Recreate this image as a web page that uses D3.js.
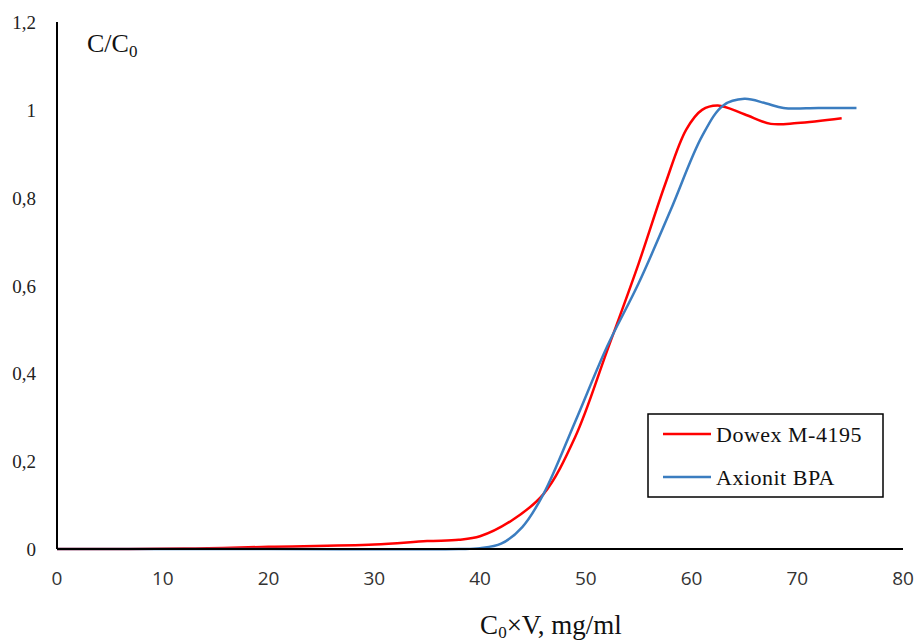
<!DOCTYPE html>
<html>
<head>
<meta charset="utf-8">
<script src="https://cdn.jsdelivr.net/npm/d3@7"></script>
<style>
  body { margin: 0; background: #fff; }
  svg { display: block; }
</style>
</head>
<body>
<div class="chart"></div>
<script>
const w = 916;
const h = 643;

// values
const dowexX = [0, 12, 20, 30, 35, 38, 40, 43, 46, 49, 52, 55, 57.5, 59.5, 61, 62.5, 65, 67.5, 70, 74.2];
const dowexY = [0, 0.001, 0.005, 0.01, 0.018, 0.021, 0.029, 0.065, 0.125, 0.255, 0.45, 0.65, 0.83, 0.955, 1.0, 1.01, 0.99, 0.968, 0.97, 0.981];
const axionitX = [0, 20, 38, 40, 42, 44, 46, 49, 52, 55, 58, 61, 63, 65, 67, 68.7, 72, 75.6];
const axionitY = [0, 0, 0, 0.002, 0.012, 0.05, 0.125, 0.29, 0.46, 0.605, 0.77, 0.94, 1.01, 1.025, 1.015, 1.004, 1.004, 1.004];
const xTicks = [0, 10, 20, 30, 40, 50, 60, 70, 80];
const yTicks = [0, 0.2, 0.4, 0.6, 0.8, 1, 1.2];
const seriesNames = ["Dowex M-4195", "Axionit BPA"];
const seriesColors = ["#ff0000", "#3b7dc0"];

const series = [
  dowexX.map((x, i) => ({x: x, y: dowexY[i]})),
  axionitX.map((x, i) => ({x: x, y: axionitY[i]}))
];

const svg = d3.select(".chart")
  .append("svg")
  .attr("width", w)
  .attr("height", h);

const x = d3.scaleLinear().domain([0, 80]).range([57, 903]);
const y = d3.scaleLinear().domain([0, 1.2]).range([549, 22]);

// y tick labels (comma decimals)
svg.append("g")
  .selectAll("text")
  .data(yTicks)
  .enter().append("text")
  .attr("x", 36)
  .attr("y", d => y(d) + 7)
  .attr("text-anchor", "end")
  .attr("font-family", "Liberation Serif, serif")
  .attr("font-size", "19px")
  .attr("fill", "#222")
  .text(d => d3.format("~g")(d).replace(".", ","));

// x tick labels
svg.append("g")
  .selectAll("text")
  .data(xTicks)
  .enter().append("text")
  .attr("x", d => x(d))
  .attr("y", 585)
  .attr("text-anchor", "middle")
  .attr("font-family", "Open Sans, Liberation Sans, sans-serif")
  .attr("font-size", "19px")
  .attr("fill", "#333")
  .text(d => d);

const line = d3.line()
  .x(d => x(d.x))
  .y(d => y(d.y))
  .curve(d3.curveCatmullRom.alpha(0.5));

svg.append("g")
  .selectAll("path")
  .data(series)
  .enter().append("path")
  .attr("d", line)
  .attr("fill", "none")
  .attr("stroke", (d, i) => seriesColors[i])
  .attr("stroke-width", 2.5);

// axis lines
svg.append("line")
  .attr("x1", x(0)).attr("x2", x(0))
  .attr("y1", y(1.2)).attr("y2", y(0))
  .attr("stroke", "#000").attr("stroke-width", 2);
svg.append("line")
  .attr("x1", x(0)).attr("x2", x(80))
  .attr("y1", y(0)).attr("y2", y(0))
  .attr("stroke", "#000").attr("stroke-width", 2);

// axis titles
const yTitle = svg.append("text")
  .attr("x", 87)
  .attr("y", 52)
  .attr("font-family", "Liberation Serif, serif")
  .attr("font-size", "26px")
  .attr("fill", "#111");
yTitle.append("tspan").text("C/C");
yTitle.append("tspan").attr("dy", 5).attr("font-size", "17px").text("0");

const xTitle = svg.append("text")
  .attr("x", 551)
  .attr("y", 634)
  .attr("text-anchor", "middle")
  .attr("font-family", "Liberation Serif, serif")
  .attr("font-size", "27px")
  .attr("fill", "#111");
xTitle.append("tspan").text("C");
xTitle.append("tspan").attr("dy", 4).attr("font-size", "17px").text("0");
xTitle.append("tspan").attr("dy", -4).text("×V, mg/ml");

// legend
const legend = svg.append("g");
legend.append("rect")
  .attr("x", 648).attr("y", 414)
  .attr("width", 235).attr("height", 83)
  .attr("fill", "#fff")
  .attr("stroke", "#000")
  .attr("stroke-width", 1.5);

legend.selectAll("line")
  .data(seriesNames)
  .enter().append("line")
  .attr("x1", 663).attr("x2", 711)
  .attr("y1", (d, i) => 434 + i * 43)
  .attr("y2", (d, i) => 434 + i * 43)
  .attr("stroke", (d, i) => seriesColors[i])
  .attr("stroke-width", 2.5);

legend.selectAll("text")
  .data(seriesNames)
  .enter().append("text")
  .attr("x", 716)
  .attr("y", (d, i) => 442 + i * 43)
  .attr("font-family", "Liberation Serif, serif")
  .attr("font-size", "22px")
  .attr("letter-spacing", "0.5px")
  .attr("fill", "#111")
  .text(d => d);
</script>
</body>
</html>
